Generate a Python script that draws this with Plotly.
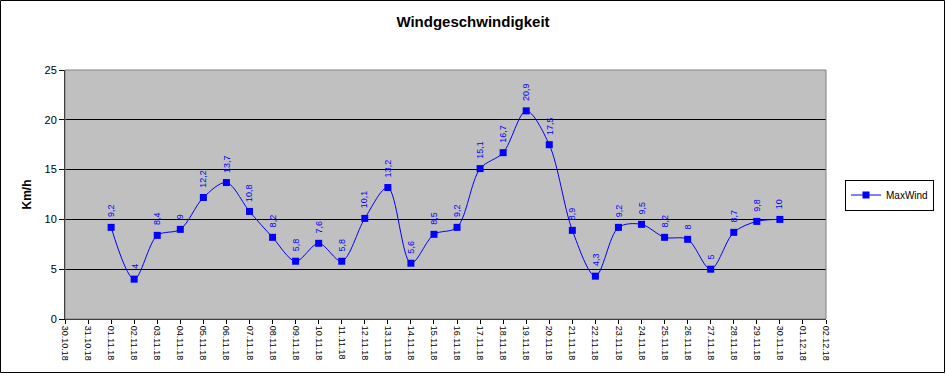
import plotly.graph_objects as go

dates = ["30.10.18", "31.10.18", "01.11.18", "02.11.18", "03.11.18", "04.11.18", "05.11.18",
         "06.11.18", "07.11.18", "08.11.18", "09.11.18", "10.11.18", "11.11.18", "12.11.18",
         "13.11.18", "14.11.18", "15.11.18", "16.11.18", "17.11.18", "18.11.18", "19.11.18",
         "20.11.18", "21.11.18", "22.11.18", "23.11.18", "24.11.18", "25.11.18", "26.11.18",
         "27.11.18", "28.11.18", "29.11.18", "30.11.18", "01.12.18", "02.12.18"]
data_dates = dates[2:32]
max_wind = [9.2, 4, 8.4, 9, 12.2, 13.7, 10.8, 8.2, 5.8, 7.6, 5.8, 10.1, 13.2, 5.6, 8.5,
            9.2, 15.1, 16.7, 20.9, 17.5, 8.9, 4.3, 9.2, 9.5, 8.2, 8, 5, 8.7, 9.8, 10]

xpos = [dates.index(d) for d in data_dates]

def fmt(v):
    s = ("%g" % v)
    return s.replace(".", ",")

fig = go.Figure()
fig.add_trace(go.Scatter(
    x=xpos, y=max_wind, mode="lines+markers", name="MaxWind",
    line=dict(color="#0000FF", width=1, shape="spline", smoothing=0.9),
    marker=dict(symbol="square", size=7, color="#0000FF"),
))

annotations = []
for x, v in zip(xpos, max_wind):
    annotations.append(dict(
        x=x, y=v, xref="x", yref="y", text=fmt(v), showarrow=False,
        textangle=-90, yanchor="bottom", xanchor="center", yshift=8,
        font=dict(family="Liberation Sans, Arial", size=9, color="#0000FF"),
    ))

L, T, R, B = 65, 70, 120, 56
pw = 946 - L - R
ph = 375 - T - B

fig.update_layout(
    width=946, height=375,
    margin=dict(l=L, r=R, t=T, b=B),
    paper_bgcolor="white", plot_bgcolor="#C0C0C0",
    title=dict(text="<b>Windgeschwindigkeit</b>", x=0.5, xref="container", xanchor="center",
               y=1 - 22 / 375, yanchor="middle",
               font=dict(family="Liberation Sans, Arial", size=15, color="black")),
    font=dict(family="Liberation Sans, Arial", color="black"),
    showlegend=True,
    legend=dict(x=(845 - L) / pw, xanchor="left", y=(375 - B - 195) / ph, yanchor="middle",
                bordercolor="black", borderwidth=1, bgcolor="white",
                font=dict(size=10, family="Liberation Sans, Arial")),
    xaxis=dict(range=[0, 33], tickvals=list(range(len(dates))), ticktext=dates,
               tickangle=90, ticks="outside", ticklen=4, tickcolor="black",
               showgrid=False, zeroline=False, showline=True, linecolor="black",
               tickfont=dict(size=9, family="Liberation Sans, Arial")),
    yaxis=dict(range=[0, 25], dtick=5, ticks="outside", ticklen=5, tickcolor="black",
               showgrid=True, gridcolor="black", gridwidth=1, zeroline=False,
               showline=True, linecolor="black",
               title=dict(text="<b>Km/h</b>", font=dict(size=12), standoff=10),
               tickfont=dict(size=11, family="Liberation Sans, Arial")),
    annotations=annotations,
    shapes=[
        dict(type="rect", xref="paper", yref="paper", x0=0, x1=1, y0=0, y1=1,
             line=dict(color="#808080", width=1), layer="above"),
        dict(type="rect", xref="paper", yref="paper",
             x0=(0.5 - L) / pw, x1=(944.5 - L) / pw,
             y0=-(372.5 - T - ph) / ph, y1=1 + (T - 0.5) / ph,
             line=dict(color="black", width=1)),
    ],
)

fig.write_html("out.html", config={"displayModeBar": False},
               post_script="document.body.style.margin='0';")
